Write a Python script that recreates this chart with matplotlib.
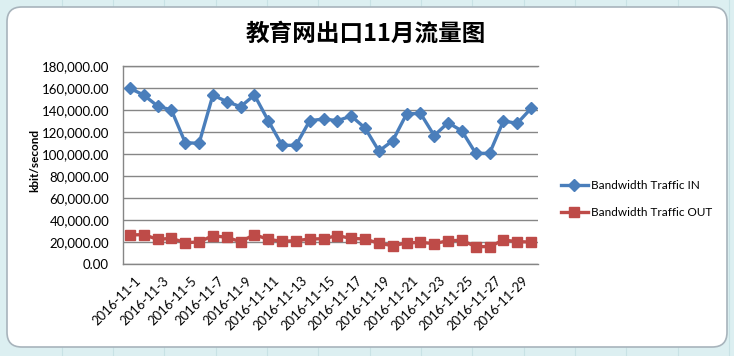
import matplotlib
matplotlib.use("Agg")
import matplotlib.pyplot as plt
from matplotlib.patches import FancyBboxPatch
from matplotlib.ticker import FuncFormatter, MultipleLocator
from matplotlib.transforms import ScaledTranslation

dates = [f"2016-11-{d}" for d in range(1, 31)]
traffic_in = [159700, 153600, 143600, 140000, 110300, 109700, 153600, 147600, 143000, 153600,
              130300, 107900, 107900, 130300, 131800, 130300, 134500, 123600, 102700, 112100,
              136400, 137000, 116700, 128500, 120900, 100600, 100600, 130000, 127900, 141500]
traffic_out = [26400, 26700, 22400, 23300, 19400, 20000, 25800, 24200, 20300, 26700,
               22400, 20600, 21200, 22700, 23000, 25800, 23300, 22700, 18800, 16700,
               19100, 19700, 18500, 21200, 21500, 15800, 15800, 21800, 20300, 20000]
title = "教育网出口11月流量图"
ylabel = "kbit/second"
series_names = ["Bandwidth Traffic IN", "Bandwidth Traffic OUT"]

W, H = 734, 356
fig = plt.figure(figsize=(W / 100, H / 100), dpi=100)
fig.patch.set_facecolor("#DCEFF1")

# spreadsheet-like background lines
for xv in [62, 113, 164, 216, 267, 318, 370, 421, 472, 524, 575, 626, 678, 729]:
    fig.add_artist(plt.Line2D([xv / W, xv / W], [0, 1], color="#C8E2E5", lw=0.8, zorder=-3))

panel = FancyBboxPatch((7 / W, (H - 347) / H), (727 - 7) / W, (347 - 7) / H,
                       boxstyle="round,pad=0,rounding_size=0.02",
                       transform=fig.transFigure, facecolor="white",
                       edgecolor="#A8B4BC", lw=1.2, zorder=-2, mutation_aspect=W / H)
fig.add_artist(panel)

ax = fig.add_axes([123 / W, (H - 264) / H, 415 / W, 198 / H])
ax.set_facecolor("none")
x = list(range(len(dates)))
ax.plot(x, traffic_in, color="#4A7EBB", lw=2.4, marker="D", markersize=6.0,
        label=series_names[0], zorder=3)
ax.plot(x, traffic_out, color="#BE4B48", lw=2.4, marker="s", markersize=6.8,
        label=series_names[1], zorder=3)

ax.set_xlim(-0.5, len(dates) - 0.5)
ax.set_ylim(0, 180000)
ax.yaxis.set_major_locator(MultipleLocator(20000))
ax.yaxis.set_major_formatter(FuncFormatter(lambda v, p: f"{v:,.2f}"))
ax.grid(axis="y", color="#868686", lw=1)
ax.set_axisbelow(True)
ax.spines["right"].set_visible(False)
for s in ["left", "bottom", "top"]:
    ax.spines[s].set_color("#868686")
    ax.spines[s].set_linewidth(1)

ax.set_xticks(x[::2])
ax.set_xticklabels(dates[::2], rotation=45, ha="right", va="top",
                   rotation_mode="anchor", fontsize=9.4, family="Lato")
ax.tick_params(axis="x", length=0, pad=6)
ax.tick_params(axis="y", length=0, pad=10, labelsize=9.5)
off = ScaledTranslation(5 / 100, -2 / 100, fig.dpi_scale_trans)
for lab in ax.get_xticklabels():
    lab.set_transform(lab.get_transform() + off)
for lab in ax.get_yticklabels():
    lab.set_family("Lato")

fig.text(35 / W, 1 - 160 / H, ylabel, rotation=90, ha="center", va="center",
         fontsize=8.5, fontweight="bold", family="Lato")
fig.text(366 / W, 1 - 34 / H, title, ha="center", va="center", fontsize=17,
         fontweight="bold", family=["Noto Sans CJK SC", "DejaVu Sans"])

leg = fig.legend(loc="center left", bbox_to_anchor=(550 / W, 1 - 199 / H),
                 frameon=False, prop={"family": "Lato", "size": 8.5},
                 handlelength=2.3, handletextpad=0.3, labelspacing=1.3)

fig.savefig("out.png", dpi=100, facecolor=fig.get_facecolor())
